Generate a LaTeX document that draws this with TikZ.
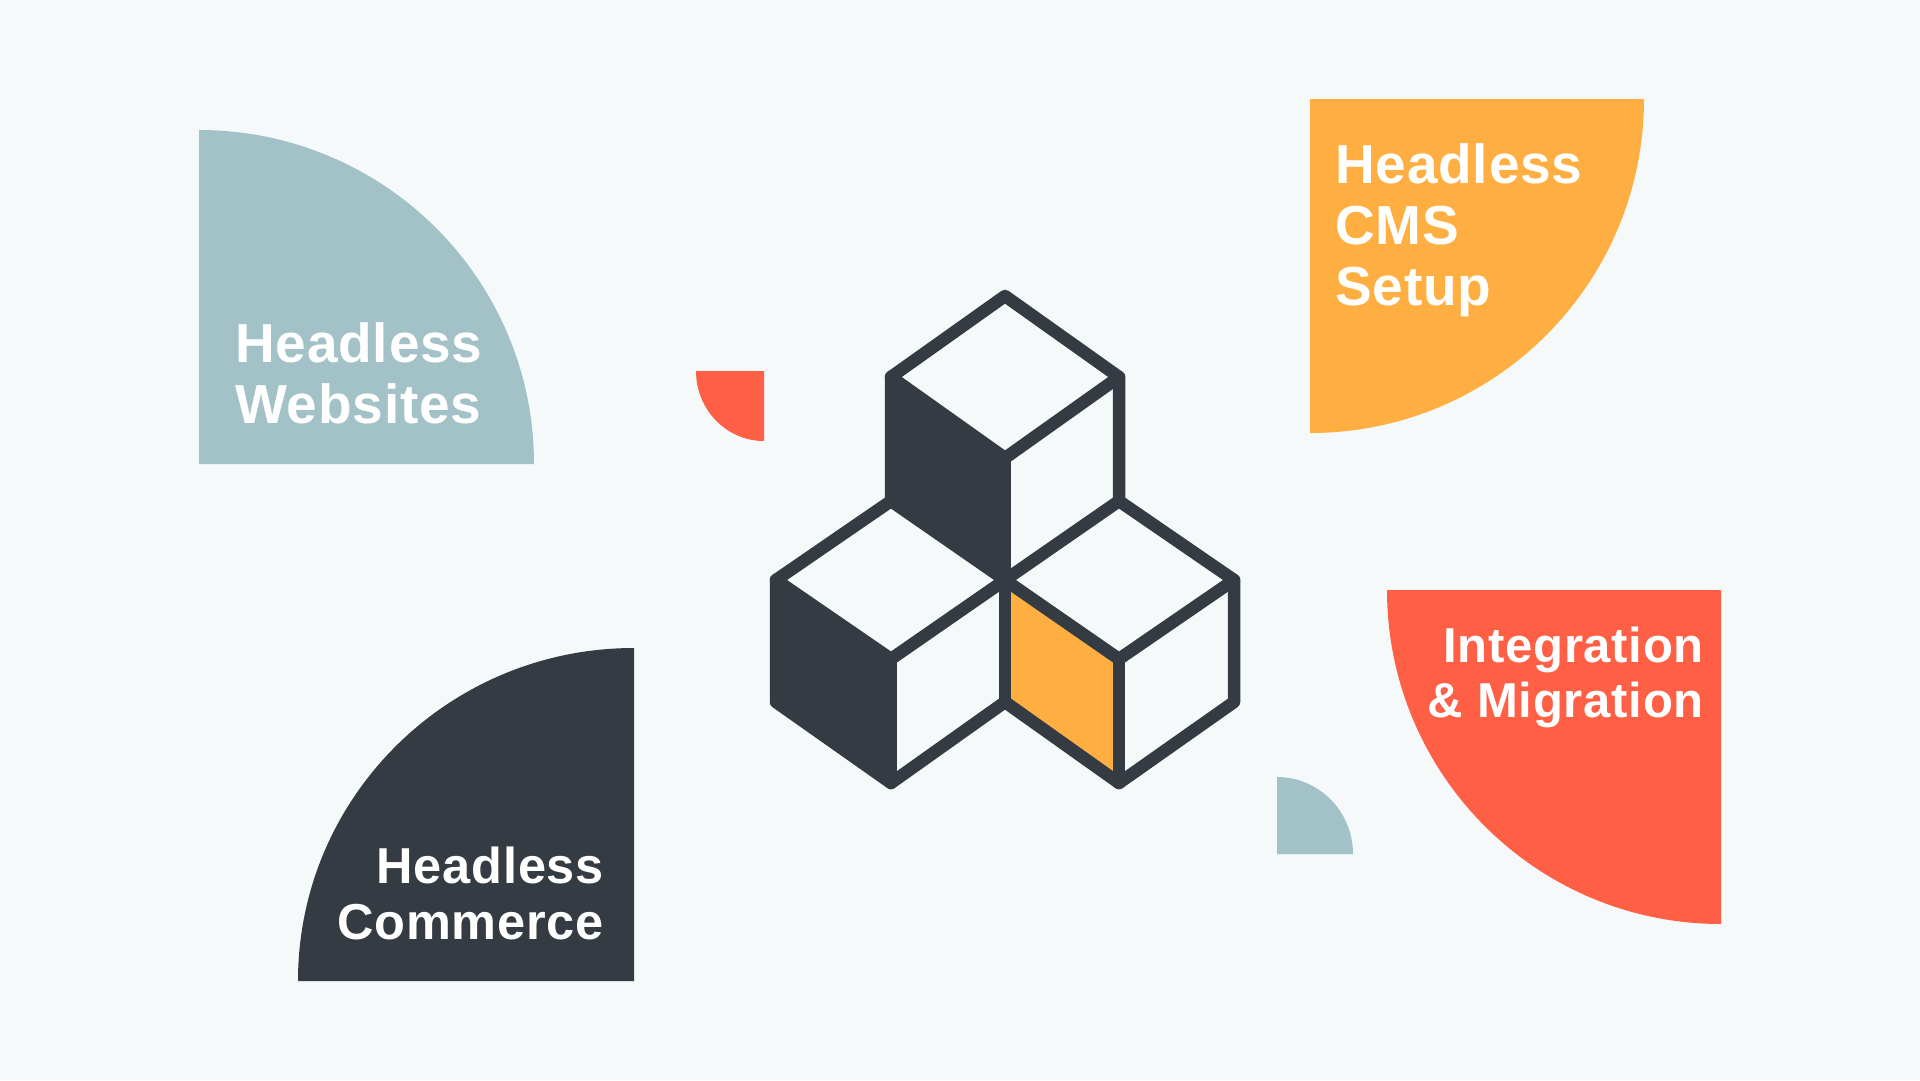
\documentclass[tikz,border=0pt]{standalone}
\usepackage{fontspec}
\newfontfamily\labelfont{Liberation Sans Bold}[LetterSpace=1.5]

\definecolor{pagebg}{HTML}{F5F9FA}
\definecolor{tealc}{HTML}{A2C2C8}
\definecolor{orangec}{HTML}{FFAE42}
\definecolor{redc}{HTML}{FF5F45}
\definecolor{darkc}{HTML}{343B42}

\tikzset{
	edge/.style={draw=darkc, line width=12.5pt, line join=round, line cap=round},
	biglabel/.style={text=white, inner sep=0pt, font=\labelfont\fontsize{55}{61}\selectfont},
	midlabel/.style={text=white, inner sep=0pt, font=\labelfont\fontsize{49}{54.5}\selectfont},
	darklabel/.style={text=white, inner sep=0pt, font=\labelfont\fontsize{50.5}{56}\selectfont},
}

\begin{document}
\begin{tikzpicture}[x=1pt, y=-1pt]
	\fill[pagebg] (0,0) rectangle (1920,1080);

	% big quarter discs
	\fill[tealc]   (199,464) -- (199,130) arc[start angle=90, end angle=0, x radius=335pt, y radius=334pt] -- cycle;
	\fill[orangec] (1310,99) -- (1644,99) arc[start angle=0, end angle=-90, x radius=334pt, y radius=334pt] -- cycle;
	\fill[redc]    (1721,590) -- (1387,590) arc[start angle=180, end angle=270, x radius=334pt, y radius=334pt] -- cycle;
	\fill[darkc]   (634,981) -- (298,981) arc[start angle=180, end angle=90, x radius=336pt, y radius=333pt] -- cycle;

	% small ones
	\fill[redc]  (764,371) -- (696,371) arc[start angle=180, end angle=270, x radius=68pt, y radius=70pt] -- cycle;
	\fill[tealc] (1277,854) -- (1277,777) arc[start angle=90, end angle=0, x radius=76pt, y radius=77pt] -- cycle;

	\draw (235,423) node[biglabel, anchor=base west, align=left] (websites) {Headless\\Websites};
	\draw (1335,305) node[biglabel, anchor=base west, align=left] (cms) {Headless\\CMS\\Setup};
	\draw (1704,717) node[midlabel, anchor=base east, align=right] (migration) {Integration\\\& Migration};
	\draw (604,939) node[darklabel, anchor=base east, align=right] (commerce) {Headless\\Commerce};

	% cube corners
	\coordinate (top) at (1005,296);
	\coordinate (tl) at (891,377);
	\coordinate (tr) at (1119,377);
	\coordinate (tc) at (1005,458);
	\coordinate (ml) at (891,501);
	\coordinate (mr) at (1119,501);
	\coordinate (mid) at (1005,580);
	\coordinate (ll) at (776,580);
	\coordinate (lb) at (776,702);
	\coordinate (lc) at (891,659);
	\coordinate (lo) at (891,783);
	\coordinate (cb) at (1005,702);
	\coordinate (rr) at (1234,580);
	\coordinate (rb) at (1234,702);
	\coordinate (rc) at (1119,659);
	\coordinate (ro) at (1119,783);

	\fill[darkc] (tl) -- (tc) -- (mid) -- (ml) -- cycle;
	\fill[darkc] (ll) -- (lc) -- (lo) -- (lb) -- cycle;
	\fill[orangec] (mid) -- (rc) -- (ro) -- (cb) -- cycle;

	\draw[edge] (top) -- (tr) -- (mr) -- (rr) -- (rb) -- (ro) -- (cb) -- (lo) -- (lb) -- (ll) -- (ml) -- (tl) -- cycle;
	\draw[edge] (tl) -- (tc) -- (tr);
	\draw[edge] (tc) -- (mid) -- (cb);
	\draw[edge] (ml) -- (mid) -- (mr);
	\draw[edge] (ll) -- (lc) -- (mid) -- (rc) -- (rr);
	\draw[edge] (lc) -- (lo);
	\draw[edge] (rc) -- (ro);
\end{tikzpicture}
\end{document}
